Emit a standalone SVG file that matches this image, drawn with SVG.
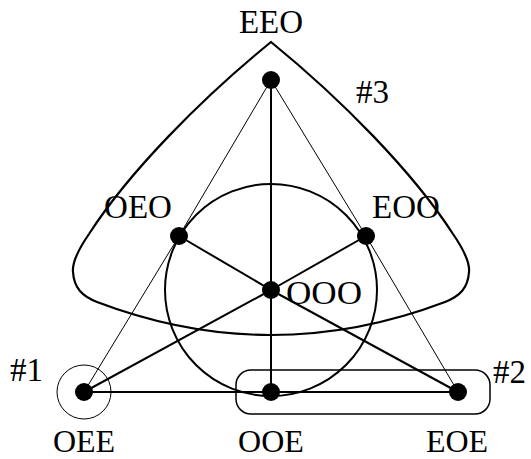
<svg xmlns="http://www.w3.org/2000/svg" width="531" height="459" viewBox="0 0 531 459">
<style>
text{font-family:"Liberation Serif","DejaVu Serif",serif;font-size:33px;fill:#000}
.mid{text-anchor:middle}
.bot{font-size:32px}
.thin{stroke:#000;stroke-width:1;fill:none}
.thick{stroke:#000;stroke-width:2;fill:none}
.dot{fill:#000}
</style>
<rect width="531" height="459" fill="#fff"/>
<g id="regions">
<path id="set3" d="M271,42 C201,99 129,172 89,234 C78,250 72,262 73,272 C74,288 82,296 97,302 Q271,368 445,302 C460,296 468,288 469,272 C470,262 464,250 453,234 C413,172 341,99 271,42 Z" stroke="#000" stroke-width="2.2" fill="none"/>
<circle id="innerCircle" cx="271" cy="290" r="106" class="thick"/>
<circle id="set1" cx="84" cy="392" r="27" class="thin"/>
<rect id="set2" x="236" y="370" width="254" height="44" rx="15" ry="15" stroke="#000" stroke-width="1.5" fill="none"/>
</g>
<g id="connectors">
<line x1="271" y1="80" x2="179" y2="236" class="thin"/>
<line x1="271" y1="80" x2="366" y2="236" class="thin"/>
<line x1="179" y1="236" x2="84" y2="392" class="thin"/>
<line x1="366" y1="236" x2="458" y2="392" class="thin"/>
<line x1="271" y1="80" x2="271" y2="290" class="thick"/>
<line x1="271" y1="290" x2="271" y2="392" class="thick"/>
<line x1="179" y1="236" x2="271" y2="290" class="thick"/>
<line x1="271" y1="290" x2="458" y2="392" class="thick"/>
<line x1="366" y1="236" x2="271" y2="290" class="thick"/>
<line x1="271" y1="290" x2="84" y2="392" class="thick"/>
<line x1="84" y1="392" x2="271" y2="392" class="thick"/>
<line x1="271" y1="392" x2="458" y2="392" class="thick"/>
</g>
<g id="EEO"><circle cx="271" cy="80" r="9" class="dot"/><text x="271" y="33" class="mid">EEO</text></g>
<g id="OEO"><circle cx="179" cy="236" r="9" class="dot"/><text x="138" y="218" class="mid">OEO</text></g>
<g id="EOO"><circle cx="366" cy="236" r="9" class="dot"/><text x="406" y="218" class="mid">EOO</text></g>
<g id="OOO"><circle cx="271" cy="290" r="9" class="dot"/><text x="286" y="304" textLength="76" lengthAdjust="spacingAndGlyphs">OOO</text></g>
<g id="OEE"><circle cx="84" cy="392" r="9" class="dot"/><text x="84" y="452" class="mid bot">OEE</text></g>
<g id="OOE"><circle cx="271" cy="392" r="9" class="dot"/><text x="271" y="452" class="mid bot">OOE</text></g>
<g id="EOE"><circle cx="458" cy="392" r="9" class="dot"/><text x="457" y="452" class="mid bot">EOE</text></g>
<g id="labels">
<text x="356" y="103">#3</text>
<text x="10" y="381">#1</text>
<text x="493" y="383">#2</text>
</g>
</svg>
